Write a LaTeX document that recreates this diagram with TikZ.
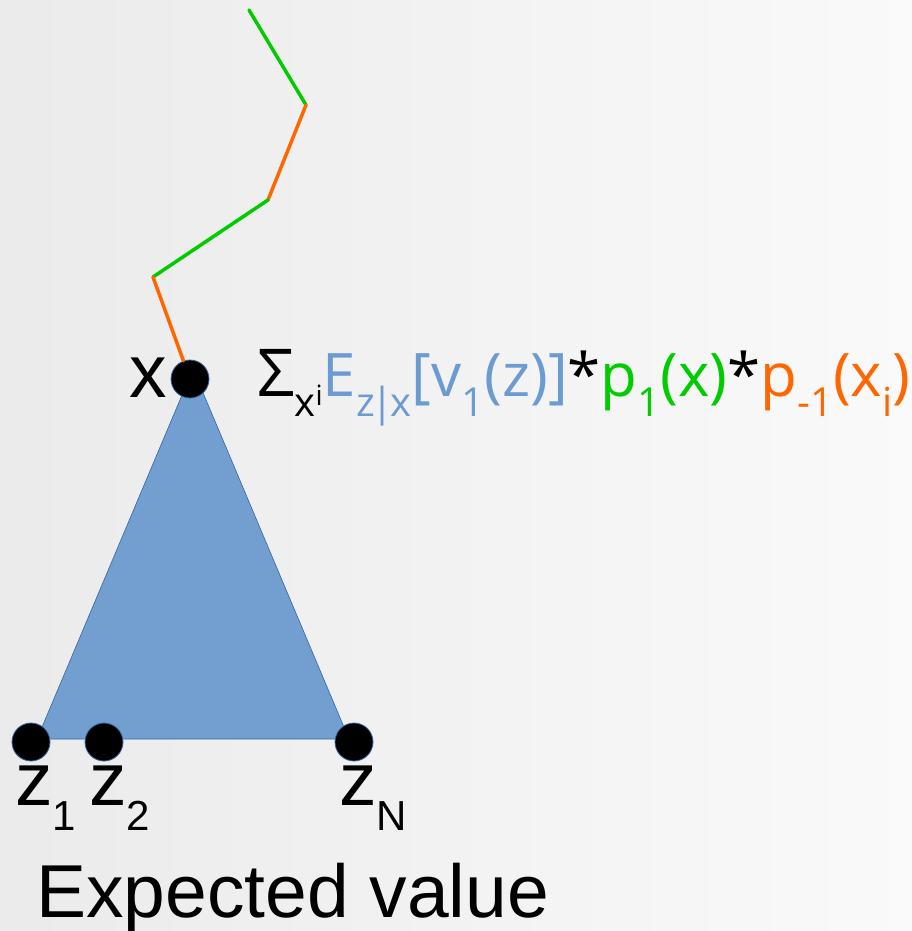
\documentclass[tikz,border=0pt]{standalone}
\usepackage{fontspec}
\setmainfont{Liberation Sans}
\newfontfamily\formfont{Open Sans}
\definecolor{tblue}{HTML}{6C9BD2}
\definecolor{trifill}{HTML}{729FCF}
\definecolor{triedge}{HTML}{3465A4}
\definecolor{tgreen}{HTML}{00CC00}
\definecolor{torange}{HTML}{FF6600}
\newcommand{\fsub}[1]{\raisebox{-20pt}{\fontsize{40}{40}\selectfont #1}}
\newcommand{\lsub}[1]{\raisebox{-25pt}{\fontsize{42}{42}\selectfont #1}}
\begin{document}
\begin{tikzpicture}[x=1pt,y=-1pt,
  dotnode/.style={circle,fill=black,draw=triedge,line width=0.8pt,minimum size=38pt,inner sep=0pt},
  gline/.style={draw=tgreen,line width=3.5pt,line cap=round},
  oline/.style={draw=torange,line width=3.5pt,line cap=round},
  bigtext/.style={font=\fontsize{75}{75}\selectfont,inner sep=0pt,anchor=base west}]
\useasboundingbox (0,0) rectangle (912,931);
\shade[left color=black!8, right color=black!2] (0,0) rectangle (912,931);
% triangle
\coordinate (apex) at (193,369);
\coordinate (bl) at (37,739);
\coordinate (br) at (349,739);
\filldraw[fill=trifill,draw=triedge,line width=0.6pt] (apex) -- (bl) -- (br) -- cycle;
% dots
\node[dotnode] (x) at (190,379) {};
\node[dotnode] (z1) at (31,742) {};
\node[dotnode] (z2) at (104,742) {};
\node[dotnode] (zN) at (354,742) {};
% zigzag path
\coordinate (p0) at (249,10);
\coordinate (p1) at (306,105);
\coordinate (p2) at (268,200);
\coordinate (p3) at (153,277);
\draw[gline] (p0) -- (p1);
\draw[oline] (p1) -- (p2);
\draw[gline] (p2) -- (p3);
\draw[oline] (p3) -- (x);
% labels
\node[bigtext] (xl) at (129,397) {x};
\node[bigtext] (z1l) at (15,805) {z\lsub{1}};
\node[bigtext] (z2l) at (89,805) {z\lsub{2}};
\node[bigtext] (zNl) at (339,805) {z\lsub{N}};
\node[bigtext] (ev) at (36,917) {Expected value};
% formula
\node[inner sep=0pt,anchor=base west,font=\formfont\fontsize{60}{60}\selectfont] (form) at (257,396)
 {{\fontsize{66}{66}\selectfont Σ}\fsub{x\raisebox{11pt}{\fontsize{28}{28}\selectfont i}}\textcolor{tblue}{E\fsub{z\kern-3pt|\kern-3pt x}[v\fsub{1}(z)]}*\textcolor{tgreen}{p\fsub{1}(x)}*\textcolor{torange}{p\fsub{-1}(x\fsub{i})}};
\end{tikzpicture}
\end{document}
